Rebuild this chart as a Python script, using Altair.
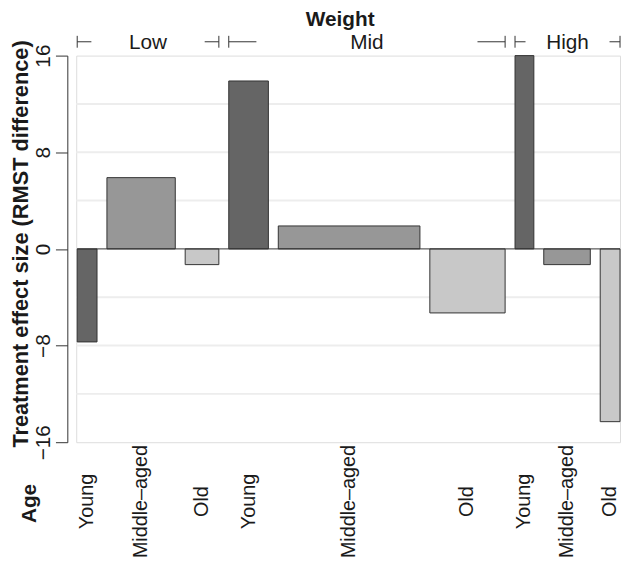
import altair as alt
import pandas as pd

# ---- data ----
weight = ["Low", "Low", "Low", "Mid", "Mid", "Mid", "High", "High", "High"]
age = ["Young", "Middle–aged", "Old"] * 3
effect = [-7.7, 5.9, -1.3, 13.9, 1.9, -5.3, 16.0, -1.3, -14.3]
n = [20, 69, 34, 40, 143, 76, 19, 47, 20]   # relative group sizes (bar widths)
gap = 10

weight_levels = ["Low", "Mid", "High"]
age_levels = ["Young", "Middle–aged", "Old"]
age_colors = ["#656565", "#979797", "#c8c8c8"]
y_ticks = [-16, -8, 0, 8, 16]
grid_vals = [-12, -8, -4, 4, 8, 12]

# ---- build tables ----
x0, x1 = [], []
pos = 0
for w in n:
    x0.append(pos)
    x1.append(pos + w)
    pos += w + gap
bars = pd.DataFrame({"weight": weight, "age": age, "effect": effect,
                     "x0": x0, "x1": x1})
bars["xc"] = (bars["x0"] + bars["x1"]) / 2

g = bars.groupby("weight", sort=False).agg(start=("x0", "min"), end=("x1", "max")).reset_index()
g["mid"] = (g["start"] + g["end"]) / 2
g["len"] = (g["end"] - g["start"]) * 0.1
g["l_end"] = g["start"] + g["len"]
g["r_start"] = g["end"] - g["len"]

seg = pd.concat([
    pd.DataFrame({"a": g["start"], "b": g["l_end"]}),
    pd.DataFrame({"a": g["r_start"], "b": g["end"]}),
])
ticks_df = pd.DataFrame({"x": list(g["start"]) + list(g["end"])})
zero_df = pd.DataFrame({"a": [min(x0)], "b": [max(x1)], "y": [0]})
grid_df = pd.DataFrame({"y": grid_vals})

FONT = "Liberation Sans"
TXT = "#1a1a1a"
FS = 21
xscale = alt.Scale(domain=[-1, max(x1)], nice=False, zero=False)
yscale = alt.Scale(domain=[-16, 16], nice=False, zero=False)

grid = alt.Chart(grid_df).mark_rule(color="#ededed", strokeWidth=2).encode(
    y=alt.Y("y:Q", scale=yscale, axis=alt.Axis(
        title="Treatment effect size (RMST difference)",
        values=y_ticks, grid=False, offset=9, tickSize=12,
        domainColor="#333333", tickColor="#333333",
        labelAngle=270, labelAlign="center", labelBaseline="bottom",
        labelPadding=2, labelFontSize=FS, labelFont=FONT, labelColor=TXT,
        labelOverlap=False,
        titleFontSize=22, titleFont=FONT, titleFontWeight="bold",
        titleColor=TXT, titlePadding=0, titleY=190))
)

rects = alt.Chart(bars).mark_rect(stroke="#333333", strokeWidth=1).encode(
    x=alt.X("x0:Q", scale=xscale, axis=None),
    x2="x1:Q",
    y=alt.Y("effect:Q", scale=yscale),
    y2=alt.datum(0),
    color=alt.Color("age:N", scale=alt.Scale(domain=age_levels, range=age_colors),
                    legend=None),
)

zero = alt.Chart(zero_df).mark_rule(color="#333333", strokeWidth=1).encode(
    x=alt.X("a:Q", scale=xscale), x2="b:Q", y=alt.Y("y:Q", scale=yscale)
)

age_labels = alt.Chart(bars).mark_text(
    angle=270, fontSize=20, font=FONT, color=TXT, align="center", baseline="middle"
).encode(x=alt.X("xc:Q", scale=xscale), y=alt.value(451), text="age:N")

age_title = alt.Chart(pd.DataFrame({"t": ["Age"]})).mark_text(
    angle=270, fontSize=FS, font=FONT, fontWeight="bold", color=TXT,
    align="center", baseline="middle"
).encode(x=alt.value(-47), y=alt.value(453), text="t:N")

grp_labels = alt.Chart(g).mark_text(
    fontSize=FS, font=FONT, color=TXT, align="center", baseline="middle"
).encode(x=alt.X("mid:Q", scale=xscale), y=alt.value(-13), text="weight:N")

brk_h = alt.Chart(seg).mark_rule(color="#333333", strokeWidth=1).encode(
    x=alt.X("a:Q", scale=xscale), x2="b:Q", y=alt.value(-14)
)
brk_v = alt.Chart(ticks_df).mark_rule(color="#333333", strokeWidth=1).encode(
    x=alt.X("x:Q", scale=xscale), y=alt.value(-20), y2=alt.value(-8)
)

chart = alt.layer(grid, rects, zero, brk_h, brk_v, grp_labels, age_labels, age_title).properties(
    width=550, height=391,
    title=alt.TitleParams("Weight", fontSize=FS, font=FONT, fontWeight="bold",
                          color=TXT, anchor="middle", dx=-8, offset=2),
    autosize=alt.AutoSizeParams(type="none"),
    padding={"left": 69, "top": 45, "right": 2, "bottom": 117},
).configure_view(stroke=None).configure(background="white")

chart.save("out.html", embed_options={"renderer": "svg", "actions": False})
